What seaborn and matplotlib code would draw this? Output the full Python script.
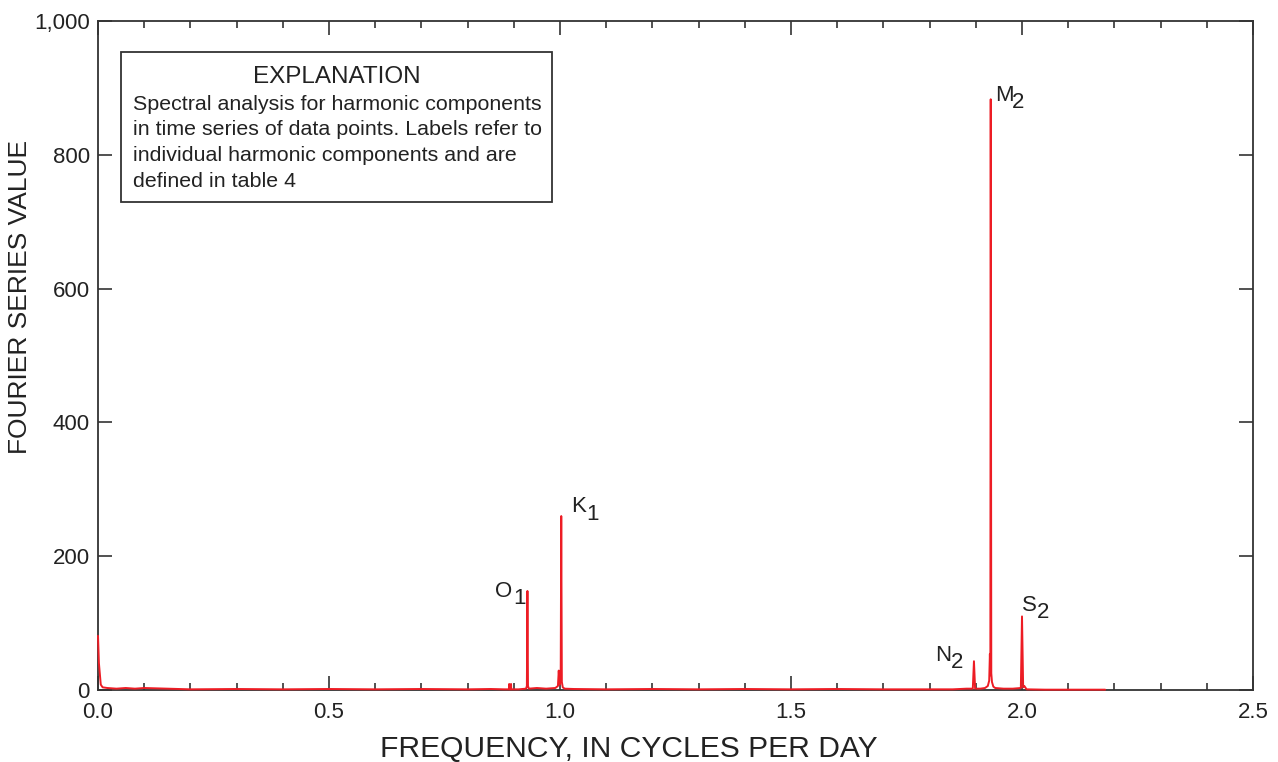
import matplotlib
matplotlib.use("Agg")
import matplotlib.pyplot as plt
from matplotlib.ticker import MultipleLocator, FuncFormatter
from matplotlib.patches import Rectangle
import seaborn as sns
import pandas as pd

# ---- data ----
freq = [0.000, 0.002, 0.004, 0.006, 0.010, 0.020, 0.040, 0.060, 0.080, 0.100,
        0.150, 0.200, 0.300, 0.400, 0.500, 0.600, 0.700, 0.800, 0.850, 0.880,
        0.8895, 0.8900, 0.8905, 0.8935, 0.8940, 0.8945, 0.910,
        0.9265, 0.9283, 0.9295, 0.9307, 0.9325, 0.950, 0.970, 0.990,
        0.9955, 0.9973, 0.9990, 1.0015, 1.0027, 1.0040, 1.0060, 1.010, 1.030,
        1.100, 1.200, 1.300, 1.400, 1.500, 1.600, 1.700, 1.800, 1.850, 1.880,
        1.8935, 1.8960, 1.8985, 1.910, 1.920, 1.926, 1.929, 1.9305, 1.9315,
        1.9323, 1.9335, 1.935, 1.938, 1.942, 1.960, 1.980,
        1.9975, 2.0000, 2.0025, 2.005, 2.010, 2.050, 2.100, 2.180]
value = [81, 40, 24, 8, 4, 3, 2, 3, 2, 3,
         2, 1, 1.5, 1, 1.5, 1, 1.5, 1, 1.5, 1,
         1, 9, 1, 1, 9, 1, 1,
         2, 6, 148, 6, 2, 3, 2, 3,
         6, 29, 8, 15, 260, 12, 4, 2, 1.5,
         1, 1.5, 1, 1.5, 1, 1.5, 1, 1, 1, 2,
         2, 43, 2, 2, 3, 6, 14, 54, 22,
         883, 25, 12, 5, 3, 2, 2,
         3, 110, 4, 6, 1, 0.5, 0.5, 0.5]

labels = ["O", "K", "N", "M", "S"]
label_subs = ["1", "1", "2", "2", "2"]

xlabel = "FREQUENCY, IN CYCLES PER DAY"
ylabel = "FOURIER SERIES VALUE"
expl_title = "EXPLANATION"
expl_lines = ["Spectral analysis for harmonic components",
              "in time series of data points. Labels refer to",
              "individual harmonic components and are",
              "defined in table 4"]

df = pd.DataFrame({"freq": freq, "value": value})

sns.set_theme(style="ticks")
plt.rcParams["font.family"] = ["Liberation Sans", "DejaVu Sans"]

W, H = 1278, 762
fig = plt.figure(figsize=(W / 100, H / 100), dpi=100)
ax = fig.add_axes([98 / W, 1 - 690 / H, 1155 / W, 669 / H])

red = "#ed1c24"
text_c = "#222222"
sns.lineplot(data=df, x="freq", y="value", ax=ax, color=red, linewidth=1.4,
             estimator=None, sort=True, zorder=5, clip_on=False)

ax.set_xlim(0, 2.5)
ax.set_ylim(0, 1000)
ax.xaxis.set_major_locator(MultipleLocator(0.5))
ax.xaxis.set_minor_locator(MultipleLocator(0.1))
ax.yaxis.set_major_locator(MultipleLocator(200))
ax.xaxis.set_major_formatter(FuncFormatter(lambda v, p: f"{v:.1f}"))
ax.yaxis.set_major_formatter(FuncFormatter(lambda v, p: f"{int(v):,}"))

spine_c = "#333333"
for s in ax.spines.values():
    s.set_visible(True)
    s.set_color(spine_c)
    s.set_linewidth(1.3)
ax.tick_params(which="both", direction="in", top=True, right=True,
               color=spine_c, width=1.2, labelcolor=text_c, labelsize=16)
ax.tick_params(which="major", length=10)
ax.tick_params(which="minor", length=5)
ax.tick_params(axis="x", which="major", pad=9)
ax.tick_params(axis="y", which="major", pad=6)

ax.set_xlabel(xlabel, fontsize=21.6, color=text_c)
ax.set_ylabel(ylabel, fontsize=19, color=text_c)
ax.xaxis.set_label_coords(0.46, -0.068)
ax.yaxis.set_label_coords(-0.057, 0.587)

# peak labels (letter + subscript), positions in data coords
label_pos = [(0.860, 139), (1.024, 266), (1.812, 43), (1.942, 880), (2.000, 118)]
sub_pos = [(0.898, 128), (1.056, 254), (1.846, 33), (1.979, 870), (2.033, 108)]
for lab, sub, (lx, ly), (sx, sy) in zip(labels, label_subs, label_pos, sub_pos):
    ax.text(lx, ly, lab, fontsize=16, color=text_c, ha="left", va="baseline")
    ax.text(sx, sy, sub, fontsize=16, color=text_c, ha="left", va="baseline")

# explanation box
bx0, by0, bx1, by1 = 121 / W, 1 - 202 / H, 552 / W, 1 - 52 / H
fig.patches.append(Rectangle((bx0, by0), bx1 - bx0, by1 - by0,
                             transform=fig.transFigure, fill=False,
                             edgecolor="#333333", linewidth=1.3, zorder=3))
fig.text((bx0 + bx1) / 2, 1 - 77 / H, expl_title, ha="center", va="center",
         fontsize=17.5, color=text_c)
for i, line in enumerate(expl_lines):
    fig.text(133 / W, 1 - (104 + 25.7 * i) / H, line, ha="left", va="center",
             fontsize=15.4, color=text_c)

fig.savefig("out.png", dpi=100)
